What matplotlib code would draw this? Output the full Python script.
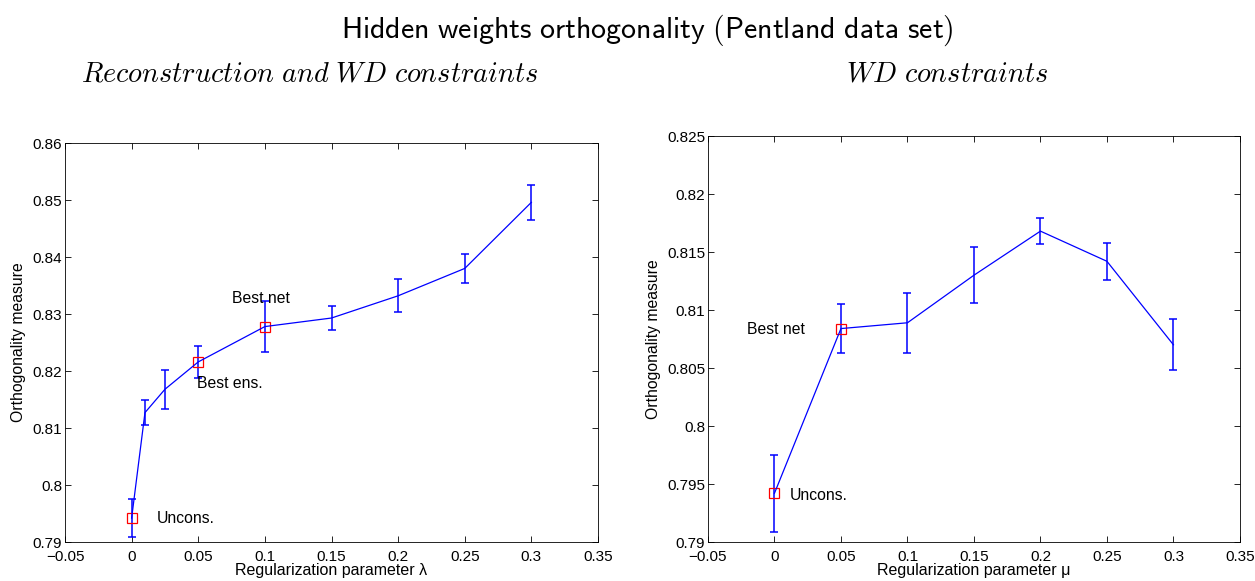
import matplotlib
matplotlib.use("Agg")
import matplotlib.pyplot as plt
import numpy as np

plt.rcParams["font.family"] = ["Liberation Sans", "DejaVu Sans"]
plt.rcParams["mathtext.fontset"] = "cm"

# ── data ──────────────────────────────────────────────────────────────────────
lam = [0, 0.01, 0.025, 0.05, 0.1, 0.15, 0.2, 0.25, 0.3]
lam_orth = [0.7942, 0.8127, 0.8168, 0.8216, 0.8278, 0.8293, 0.8332, 0.8380, 0.8496]
lam_err = [0.0033, 0.0022, 0.0034, 0.0028, 0.0044, 0.0021, 0.0029, 0.0026, 0.0031]
lam_marked = [0, 3, 4]

mu = [0, 0.05, 0.1, 0.15, 0.2, 0.25, 0.3]
mu_orth = [0.7942, 0.8084, 0.8089, 0.8130, 0.8168, 0.8142, 0.8070]
mu_err = [0.0033, 0.0021, 0.0026, 0.0024, 0.0011, 0.0016, 0.0022]
mu_marked = [0, 1]

xticks = [-0.05, 0, 0.05, 0.1, 0.15, 0.2, 0.25, 0.3, 0.35]
xtick_labels = ["\u22120.05", "0", "0.05", "0.1", "0.15", "0.2", "0.25", "0.3", "0.35"]
lam_yticks = [0.79, 0.80, 0.81, 0.82, 0.83, 0.84, 0.85, 0.86]
lam_ytick_labels = ["0.79", "0.8", "0.81", "0.82", "0.83", "0.84", "0.85", "0.86"]
mu_yticks = [0.79, 0.795, 0.80, 0.805, 0.81, 0.815, 0.82, 0.825]
mu_ytick_labels = ["0.79", "0.795", "0.8", "0.805", "0.81", "0.815", "0.82", "0.825"]

# annotations: (text, x, y)
lam_notes = [("Best net", 0.0755, 0.8328), ("Best ens.", 0.049, 0.8178), ("Uncons.", 0.019, 0.7942)]
mu_notes = [("Best net", -0.0205, 0.8083), ("Uncons.", 0.0117, 0.7940)]

W, H = 1255, 581


def draw_panel(ax, x, y, err, marked, yticks, ylabels, notes, xlabel, ylab_x):
    ax.errorbar(x, y, yerr=err, color="#0000ff", lw=0.9, elinewidth=1.1,
                capsize=3, capthick=1.1)
    ax.plot([x[i] for i in marked], [y[i] for i in marked], ls="none",
            marker="s", ms=7, mfc="none", mec="#ff0000", mew=0.9)
    for txt, tx, ty in notes:
        ax.text(tx, ty, txt, fontsize=11.3, ha="left", va="center")
    ax.set_xlim(-0.05, 0.35)
    ax.set_ylim(yticks[0], yticks[-1])
    ax.set_xticks(xticks)
    ax.set_xticklabels(xtick_labels, fontsize=11)
    ax.set_yticks(yticks)
    ax.set_yticklabels(ylabels, fontsize=11)
    ax.tick_params(direction="in", top=True, right=True, length=4, width=0.6)
    ax.tick_params(axis="x", pad=6)
    ax.tick_params(axis="y", pad=2)
    for s in ax.spines.values():
        s.set_linewidth(0.6)
    ax.set_xlabel(xlabel, fontsize=11.5)
    ax.set_ylabel("Orthogonality measure", fontsize=11.3)
    ax.xaxis.set_label_coords(0.5, 1 - 563 / H, transform=ax.figure.transFigure)
    ax.xaxis.label.set_x((ax.get_position().x0 + ax.get_position().x1) / 2)
    ax.yaxis.set_label_coords(ylab_x / W, 0.5, transform=ax.figure.transFigure)
    ax.yaxis.label.set_y((ax.get_position().y0 + ax.get_position().y1) / 2)


fig = plt.figure(figsize=(12.55, 5.81), dpi=100)
ax1 = fig.add_axes([0.0518, 0.0671, 0.4247, 0.6867])
ax2 = fig.add_axes([0.5641, 0.0671, 0.4239, 0.6988])

draw_panel(ax1, lam, lam_orth, lam_err, lam_marked, lam_yticks, lam_ytick_labels,
           lam_notes, "Regularization parameter \u03bb", 26)
draw_panel(ax2, mu, mu_orth, mu_err, mu_marked, mu_yticks, mu_ytick_labels,
           mu_notes, "Regularization parameter \u03bc", 661)

fig.text(647 / W, 1 - 38 / H, r"$\mathsf{Hidden\ weights\ orthogonality\ (Pentland\ data\ set)}$",
         ha="center", va="baseline", fontsize=21.5)
fig.text(310 / W, 1 - 81 / H, r"$\mathit{Reconstruction\ and\ WD\ constraints}$",
         ha="center", va="baseline", fontsize=20.3)
fig.text(947 / W, 1 - 81 / H, r"$\mathit{WD\ constraints}$",
         ha="center", va="baseline", fontsize=20.3)

fig.savefig("out.png", dpi=100)
